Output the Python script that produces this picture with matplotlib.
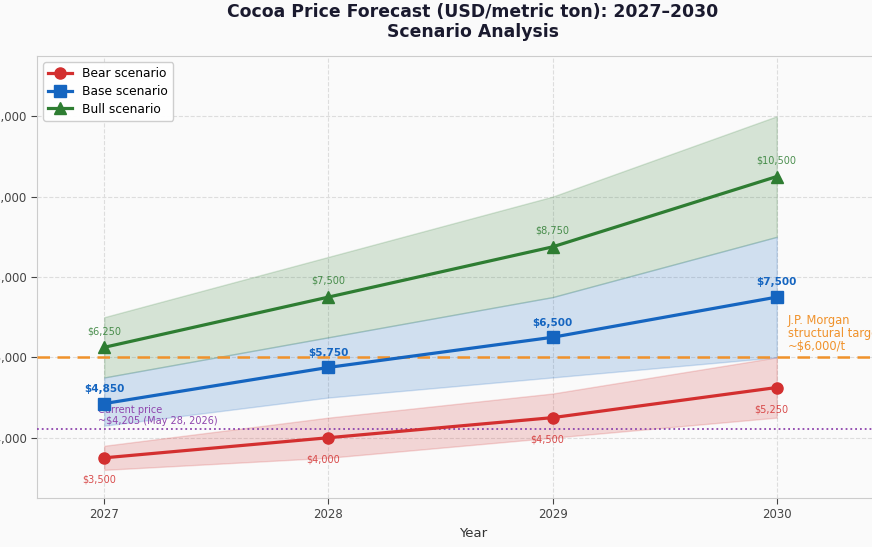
import numpy as np
import matplotlib.pyplot as plt
from matplotlib.ticker import FuncFormatter

years = [2027, 2028, 2029, 2030]

bear = [3500, 4000, 4500, 5250]
base = [4850, 5750, 6500, 7500]
bull = [6250, 7500, 8750, 10500]

bear_low = [3200, 3500, 4000, 4500]
bear_high = [3800, 4500, 5100, 6000]
base_low = [4300, 5000, 5500, 6000]
base_high = [5500, 6500, 7500, 9000]
bull_low = [5500, 6500, 7500, 9000]
bull_high = [7000, 8500, 10000, 12000]

current_price = 4205
jpm_target = 6000

c_bear = "#d32f2f"
c_base = "#1565c0"
c_bull = "#2e7d32"
c_jpm = "#f0922b"
c_cur = "#8e44ad"
bg = "#fafafa"

fig = plt.figure(figsize=(8.72, 5.47), dpi=100, facecolor=bg)
# axes run past the right edge of the canvas, like the reference crop
ax = fig.add_axes([37/872, 49/547, 872/872, 442/547])
ax.set_facecolor(bg)

ax.fill_between(years, bear_low, bear_high, color=c_bear, alpha=0.18)
ax.fill_between(years, base_low, base_high, color=c_base, alpha=0.18)
ax.fill_between(years, bull_low, bull_high, color=c_bull, alpha=0.18)

ax.plot(years, bear, color=c_bear, marker="o", markersize=8, linewidth=2.3, label="Bear scenario", zorder=5)
ax.plot(years, base, color=c_base, marker="s", markersize=8, linewidth=2.3, label="Base scenario", zorder=5)
ax.plot(years, bull, color=c_bull, marker="^", markersize=9, linewidth=2.3, label="Bull scenario", zorder=5)

for x, v in zip(years, bull):
    ax.annotate(f"${v:,}", (x, v), xytext=(0, 8), textcoords="offset points",
                ha="center", va="bottom", fontsize=7, color=c_bull, alpha=0.85)
for x, v in zip(years, base):
    ax.annotate(f"${v:,}", (x, v), xytext=(0, 7), textcoords="offset points",
                ha="center", va="bottom", fontsize=7.5, color=c_base, fontweight="bold")
for x, v in zip(years, bear):
    ax.annotate(f"${v:,}", (x, v), xytext=(-4, -12), textcoords="offset points",
                ha="center", va="top", fontsize=7, color=c_bear, alpha=0.85)

ax.axhline(jpm_target, color=c_jpm, linestyle="--", linewidth=1.8, dashes=(5, 3), zorder=3)
ax.text(2030.05, 6100, "J.P. Morgan\nstructural target\n~$6,000/t", color=c_jpm,
        fontsize=8.3, ha="left", va="bottom", linespacing=1.0)

ax.axhline(current_price, color=c_cur, linestyle=":", linewidth=1.3, zorder=3)
ax.text(2026.97, 4300, "Current price\n~$4,205 (May 28, 2026)", color=c_cur,
        fontsize=7, ha="left", va="bottom", linespacing=1.1)

ax.set_xlim(2026.7, 2030.59)
ax.set_ylim(2500, 13500)
ax.set_xticks(years)
ax.set_yticks([4000, 6000, 8000, 10000, 12000])
ax.yaxis.set_major_formatter(FuncFormatter(lambda v, p: f"${v:,.0f}"))
ax.tick_params(labelsize=8.5, colors="#444444", length=4)
ax.set_xlabel("Year", fontsize=9.5, color="#333333")

ax.grid(True, linestyle="--", color="#dddddd", linewidth=0.8)
ax.set_axisbelow(True)
for s in ax.spines.values():
    s.set_color("#cccccc")

ax.set_title("Cocoa Price Forecast (USD/metric ton): 2027\u20132030\nScenario Analysis",
             fontsize=12.4, fontweight="bold", color="#1a1a2e", pad=13.5, linespacing=1.15)

ax.legend(loc="upper left", fontsize=8.8, framealpha=0.95, edgecolor="#cccccc", labelspacing=0.4)

fig.savefig("out.png", dpi=100, facecolor=bg)
